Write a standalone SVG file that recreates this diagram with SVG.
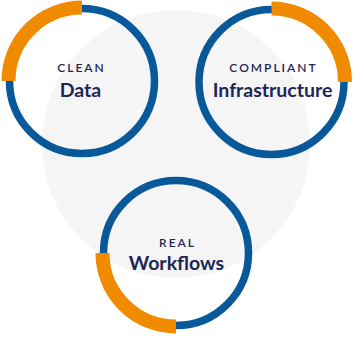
<svg xmlns="http://www.w3.org/2000/svg" width="353" height="341" viewBox="0 0 353 341">
  <style>
    .ring { fill: none; stroke: #07599a; stroke-width: 7.5; }
    .arc { fill: none; stroke: #f08b00; stroke-width: 14; stroke-linecap: butt; }
    .small { font-family: Lato, "Open Sans", sans-serif; font-size: 12px; font-weight: 600; fill: #1d2757; letter-spacing: 2px; text-anchor: middle; }
    .big { font-family: Lato, "Open Sans", sans-serif; font-size: 19.5px; font-weight: 700; fill: #1d2757; text-anchor: middle; }
  </style>
  <circle cx="176" cy="144" r="134" fill="#f5f5f6"/>
  <g id="connectors"></g>
  <g id="clean">
    <circle class="ring" cx="82" cy="81" r="72.5"/>
    <path class="arc" d="M 82 7.5 A 73.5 73.5 0 0 0 8.5 81"/>
    <text class="small" x="81.5" y="72.3">CLEAN</text>
    <text class="big" x="80.5" y="96.7">Data</text>
  </g>
  <g id="compliant">
    <circle class="ring" cx="271.5" cy="82" r="72.5"/>
    <path class="arc" d="M 271.5 8.5 A 73.5 73.5 0 0 1 345 82"/>
    <text class="small" x="273.5" y="71.7">COMPLIANT</text>
    <text class="big" x="272.5" y="96.7">Infrastructure</text>
  </g>
  <g id="real">
    <circle class="ring" cx="176" cy="253" r="72.5"/>
    <path class="arc" d="M 102.5 253 A 73.5 73.5 0 0 0 176 326.5"/>
    <text class="small" x="177.5" y="246.7">REAL</text>
    <text class="big" x="176.5" y="270">Workflows</text>
  </g>
</svg>
